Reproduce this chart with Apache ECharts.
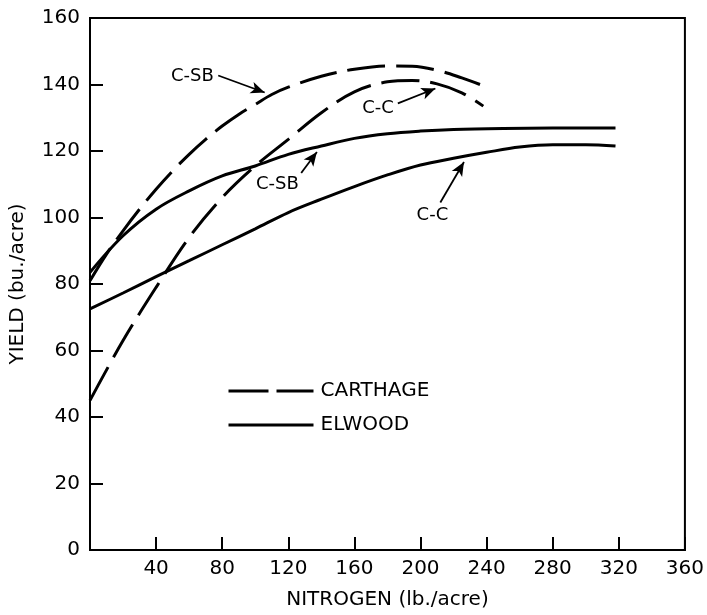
<!DOCTYPE html>
<html>
<head>
<meta charset="utf-8">
<script src="https://cdn.jsdelivr.net/npm/echarts@6/dist/echarts.min.js"></script>
<style>
html,body{margin:0;padding:0;background:#fff;}
#chart{width:707px;height:615px;}
</style>
</head>
<body>
<div id="chart"></div>
<script>
// ---- data (nitrogen lb/acre, yield bu/acre) ----
const carthageCSB = [[0,81],[10,89],[20,96],[30,102.5],[40,108.5],[50,114],[60,119],[70,123.5],[80,127.5],[90,131],[100,134],[110,137],[120,139.2],[140,142.5],[160,144.6],[180,145.6],[195,145.5],[210,144.3],[225,142],[236,140]];
const carthageCC = [[0,45],[20,63],[40,79],[60,94],[80,106],[100,115.5],[120,123.5],[140,131.5],[160,137.8],[180,140.8],[195,141.2],[210,140.2],[225,137.5],[238,133.5]];
const elwoodCSB = [[0,83.5],[20,94.5],[40,102.5],[60,108],[80,112.5],[100,115.5],[120,119],[140,121.5],[160,123.8],[180,125.2],[200,126],[220,126.5],[250,126.8],[280,126.9],[318,126.9]];
const elwoodCC = [[0,72.5],[20,77.3],[40,82.2],[60,87],[80,91.8],[100,96.6],[120,101.5],[140,105.5],[160,109.3],[180,112.8],[200,115.8],[220,117.8],[240,119.6],[260,121.2],[280,121.9],[300,121.9],[318,121.5]];

const xTicks = [0,40,80,120,160,200,240,280,320,360];
const yTicks = [0,20,40,60,80,100,120,140,160];
const seriesNames = ['CARTHAGE','ELWOOD'];
const xTitle = 'NITROGEN (lb./acre)';
const yTitle = 'YIELD (bu./acre)';

// annotations (data coordinates)
const annotationLabels = ['C-SB','C-C','C-SB','C-C'];
const annotationAt = [[62,142.4],[174.3,132.7],[113.4,109.9],[207.2,100.7]];
const arrowFrom = [[77.6,142.7],[186.3,134.3],[127.8,113.4],[212,104.5]];
const arrowTo = [[105.7,137.6],[209,138.8],[137.3,119.7],[226.3,116.7]];

const INK = '#000';
const FONT = 'DejaVu Sans';
const dash = [38, 11];

const chart = echarts.init(document.getElementById('chart'), null, {renderer:'canvas'});

function curve(name, data, dashed){
  return {
    type:'line', name:name, data:data, smooth:0.35, symbol:'none',
    lineStyle:{color:INK, width:3, type: dashed ? dash : 'solid', cap:'butt'},
    itemStyle:{color:INK}, silent:true, z:3
  };
}

function legendFor(name, top, dashed){
  return {
    show:true, orient:'vertical', left:222, top:top,
    data:[name],
    itemWidth:85, itemHeight:14,
    itemStyle:{opacity:0},
    lineStyle:{color:INK, width:3, type: dashed ? [40, 8] : 'solid', cap:'butt'},
    textStyle:{fontFamily:FONT, fontSize:20, color:INK, padding:[0,0,0,2]},
    selectedMode:false
  };
}

const option = {
  backgroundColor:'#fff',
  animation:false,
  textStyle:{fontFamily:FONT, color:INK},
  grid:{left:88, right:16, top:18, bottom:57, show:true, borderColor:INK, borderWidth:2, backgroundColor:'transparent'},
  legend:[ legendFor(seriesNames[0], 376, true), legendFor(seriesNames[1], 410, false) ],
  xAxis:{
    type:'value', min:xTicks[0], max:xTicks[xTicks.length-1], interval:40,
    name:xTitle, nameLocation:'middle', nameGap:40,
    nameTextStyle:{fontFamily:FONT, fontSize:20, color:INK},
    axisLine:{show:true, onZero:false, lineStyle:{color:INK, width:2}},
    axisTick:{show:true, inside:true, length:13, lineStyle:{color:INK, width:2}},
    axisLabel:{fontFamily:FONT, fontSize:20, color:INK, margin:9,
      formatter:function(v){ return (v===0) ? '' : String(v); }},
    splitLine:{show:false}
  },
  yAxis:{
    type:'value', min:yTicks[0], max:yTicks[yTicks.length-1], interval:20,
    name:yTitle, nameLocation:'middle', nameGap:62, nameRotate:90,
    nameTextStyle:{fontFamily:FONT, fontSize:20, color:INK},
    axisLine:{show:true, onZero:false, lineStyle:{color:INK, width:2}},
    axisTick:{show:true, inside:true, length:13, lineStyle:{color:INK, width:2}},
    axisLabel:{fontFamily:FONT, fontSize:20, color:INK, margin:10},
    splitLine:{show:false}
  },
  series:[
    curve(seriesNames[0], carthageCSB, true),
    curve(seriesNames[0], carthageCC, true),
    curve(seriesNames[1], elwoodCSB, false),
    curve(seriesNames[1], elwoodCC, false),
    {
      type:'scatter', name:'labels', silent:true, symbolSize:1, z:5,
      itemStyle:{color:'rgba(0,0,0,0)'},
      data: annotationAt.map(function(p,i){ return {value:p, name:annotationLabels[i]}; }),
      label:{show:true, position:'inside', formatter:'{b}', fontFamily:FONT, fontSize:18, color:INK, opacity:1},
      markLine:{
        silent:true, animation:false,
        symbol:['none','arrow'], symbolSize:[9,14],
        lineStyle:{color:INK, width:1.8, type:'solid', opacity:1},
        label:{show:false},
        data: arrowFrom.map(function(p,i){ return [{coord:p},{coord:arrowTo[i]}]; })
      }
    }
  ]
};
chart.setOption(option);
</script>
</body>
</html>
